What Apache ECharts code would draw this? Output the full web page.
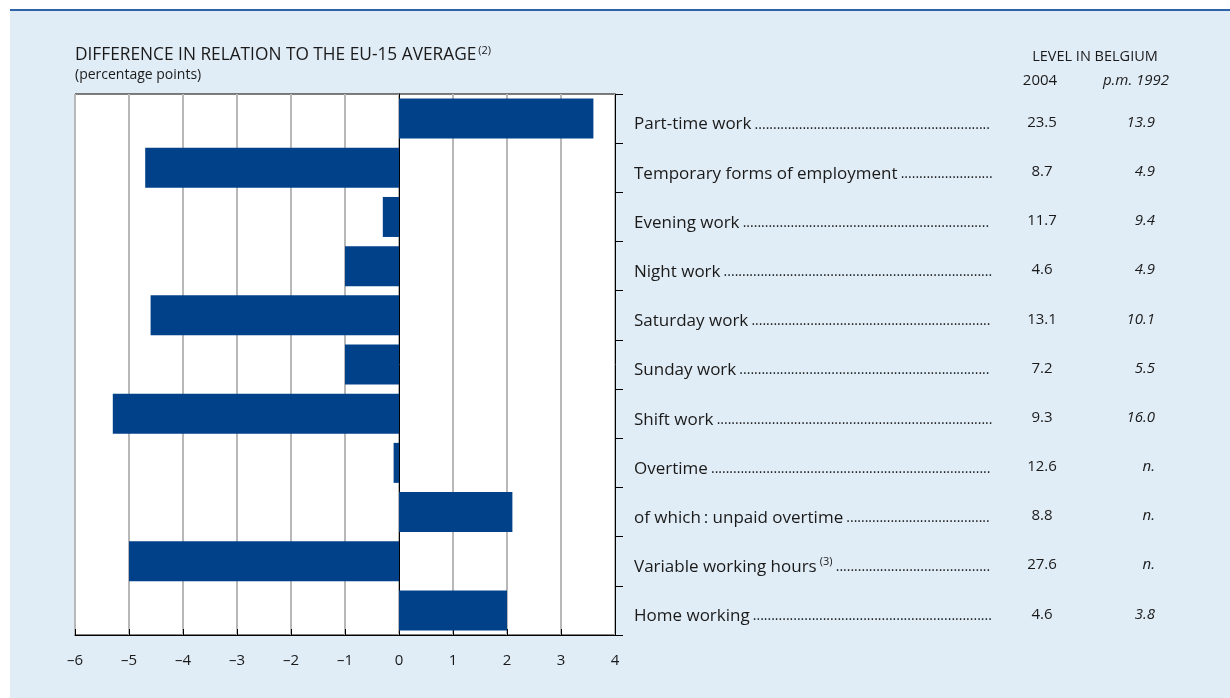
<!DOCTYPE html>
<html lang="en">
<head>
<meta charset="utf-8">
<title>Difference in relation to the EU-15 average</title>
<script src="https://cdn.jsdelivr.net/npm/echarts@6/dist/echarts.min.js"></script>
<style>
	html, body {margin:0; padding:0; background:#fff;}
	#chart {width:1230px; height:698px;}
</style>
</head>
<body>
<div id="chart"></div>
<script>
// categories, top to bottom
var categories = ['Part-time work', 'Temporary forms of employment', 'Evening work', 'Night work',
	'Saturday work', 'Sunday work', 'Shift work', 'Overtime', 'of which\u2009: unpaid overtime',
	'Variable working hours', 'Home working'];
var notes = ['', '', '', '', '', '', '', '', '', '(3)', ''];
// difference vs EU-15 average (percentage points)
var diffEU15 = [3.6, -4.7, -0.3, -1.0, -4.6, -1.0, -5.3, -0.1, 2.1, -5.0, 2.0];
// level in Belgium
var level2004 = ['23.5', '8.7', '11.7', '4.6', '13.1', '7.2', '9.3', '12.6', '8.8', '27.6', '4.6'];
var level1992 = ['13.9', '4.9', '9.4', '4.9', '10.1', '5.5', '16.0', 'n.', 'n.', 'n.', '3.8'];
var xTicks = [-6, -5, -4, -3, -2, -1, 0, 1, 2, 3, 4];

var FONT = 'Open Sans';
var ink = '#1a1a1a';

// dotted leaders up to a common right edge
var ctx = document.createElement('canvas').getContext('2d');
function textW(s, size) {
	ctx.font = size + 'px "' + FONT + '"';
	return ctx.measureText(s).width;
}
var leaderEnd = 994 - 634;
function leader(i) {
	var w = textW(categories[i] + ' ', 17);
	if (notes[i]) w += textW(notes[i], 11) + textW(' ', 17);
	var n = Math.floor((leaderEnd - w) / textW('.', 14));
	return new Array(Math.max(n, 0) + 1).join('.');
}

var chart = echarts.init(document.getElementById('chart'));
chart.setOption({
	animation: false,
	backgroundColor: '#fff',
	textStyle: {fontFamily: FONT},
	graphic: [
		{type: 'rect', z: -10, shape: {x: 10, y: 10, width: 1220, height: 688}, style: {fill: '#e1edf6'}},
		{type: 'line', shape: {x1: 10, y1: 10, x2: 1230, y2: 10}, style: {stroke: '#2f62a6', lineWidth: 2}},
		{type: 'text', left: 75, top: 45, style: {
			text: '{t|DIFFERENCE IN RELATION TO THE EU-15 AVERAGE}{s|(2)}',
			rich: {
				t: {fontFamily: FONT, fontSize: 17.3, fill: ink, lineHeight: 20},
				s: {fontFamily: FONT, fontSize: 11, fill: ink, verticalAlign: 'top', lineHeight: 11, padding: [0, 0, 0, 2]}
			}
		}},
		{type: 'text', left: 75, top: 68, style: {text: '(percentage points)', font: '14px "' + FONT + '"', fill: ink}},
		{type: 'text', x: 1095, y: 57, style: {text: 'LEVEL IN BELGIUM', font: '14.5px "' + FONT + '"', fill: ink, align: 'center', verticalAlign: 'middle'}},
		{type: 'text', x: 1040, y: 81, style: {text: '2004', font: '15px "' + FONT + '"', fill: ink, align: 'center', verticalAlign: 'middle'}},
		{type: 'text', x: 1136, y: 81, style: {text: 'p.m. 1992', font: 'italic 15px "' + FONT + '"', fill: ink, align: 'center', verticalAlign: 'middle'}}
	],
	grid: {left: 75, right: 615, top: 94, bottom: 63, show: true, backgroundColor: '#fff', borderColor: '#000', borderWidth: 1},
	xAxis: {
		type: 'value', min: -6, max: 4, interval: 1,
		axisLine: {show: true, lineStyle: {color: '#000'}},
		axisTick: {show: true, inside: true, length: 6, lineStyle: {color: '#000'}},
		splitLine: {show: true, lineStyle: {color: '#b8b8b8', width: 2}},
		axisLabel: {
			margin: 18, fontSize: 15, color: ink, fontFamily: FONT,
			formatter: function (v) { return xTicks.indexOf(v) < 0 ? '' : (v < 0 ? '\u2013' + Math.abs(v) : String(v)); }
		}
	},
	yAxis: [
		{
			type: 'category', data: categories, inverse: true, position: 'left',
			axisLine: {show: true, lineStyle: {color: '#000'}},
			axisTick: {show: false}, axisLabel: {show: false}
		},
		{
			type: 'category', data: categories, inverse: true, position: 'right',
			axisLine: {show: true, lineStyle: {color: '#000'}},
			axisTick: {show: true, length: 8, lineStyle: {color: '#000'}},
			axisLabel: {
				margin: 19, align: 'left', padding: [12, 0, 0, 0],
				formatter: function (v, i) {
					return '{t|' + v + '}' + (notes[i] ? ' {s|' + notes[i] + '}' : '') + ' {d|' + leader(i) + '}';
				},
				rich: {
					t: {fontFamily: FONT, fontSize: 17, color: ink, lineHeight: 22},
					s: {fontFamily: FONT, fontSize: 11, color: ink, verticalAlign: 'top', lineHeight: 12},
					d: {fontFamily: FONT, fontSize: 14, color: ink, lineHeight: 22}
				}
			}
		},
		{
			type: 'category', data: level2004, inverse: true, position: 'right',
			axisLine: {show: false}, axisTick: {show: false},
			axisLabel: {
				margin: 427, align: 'center', padding: [8, 0, 0, 0],
				formatter: function (v) { return '{v|' + v + '}'; },
				rich: {v: {fontFamily: FONT, fontSize: 15, color: ink, lineHeight: 20}}
			}
		},
		{
			type: 'category', data: level1992, inverse: true, position: 'right',
			axisLine: {show: false}, axisTick: {show: false},
			axisLabel: {
				margin: 540, align: 'right', padding: [8, 0, 0, 0],
				formatter: function (v) { return '{v|' + v + '}'; },
				rich: {v: {fontFamily: FONT, fontSize: 15, fontStyle: 'italic', color: ink, lineHeight: 20}}
			}
		}
	],
	series: [{
		type: 'bar', yAxisIndex: 0, data: diffEU15, barWidth: 40,
		itemStyle: {color: '#00418a'}
	}]
});
</script>
</body>
</html>
